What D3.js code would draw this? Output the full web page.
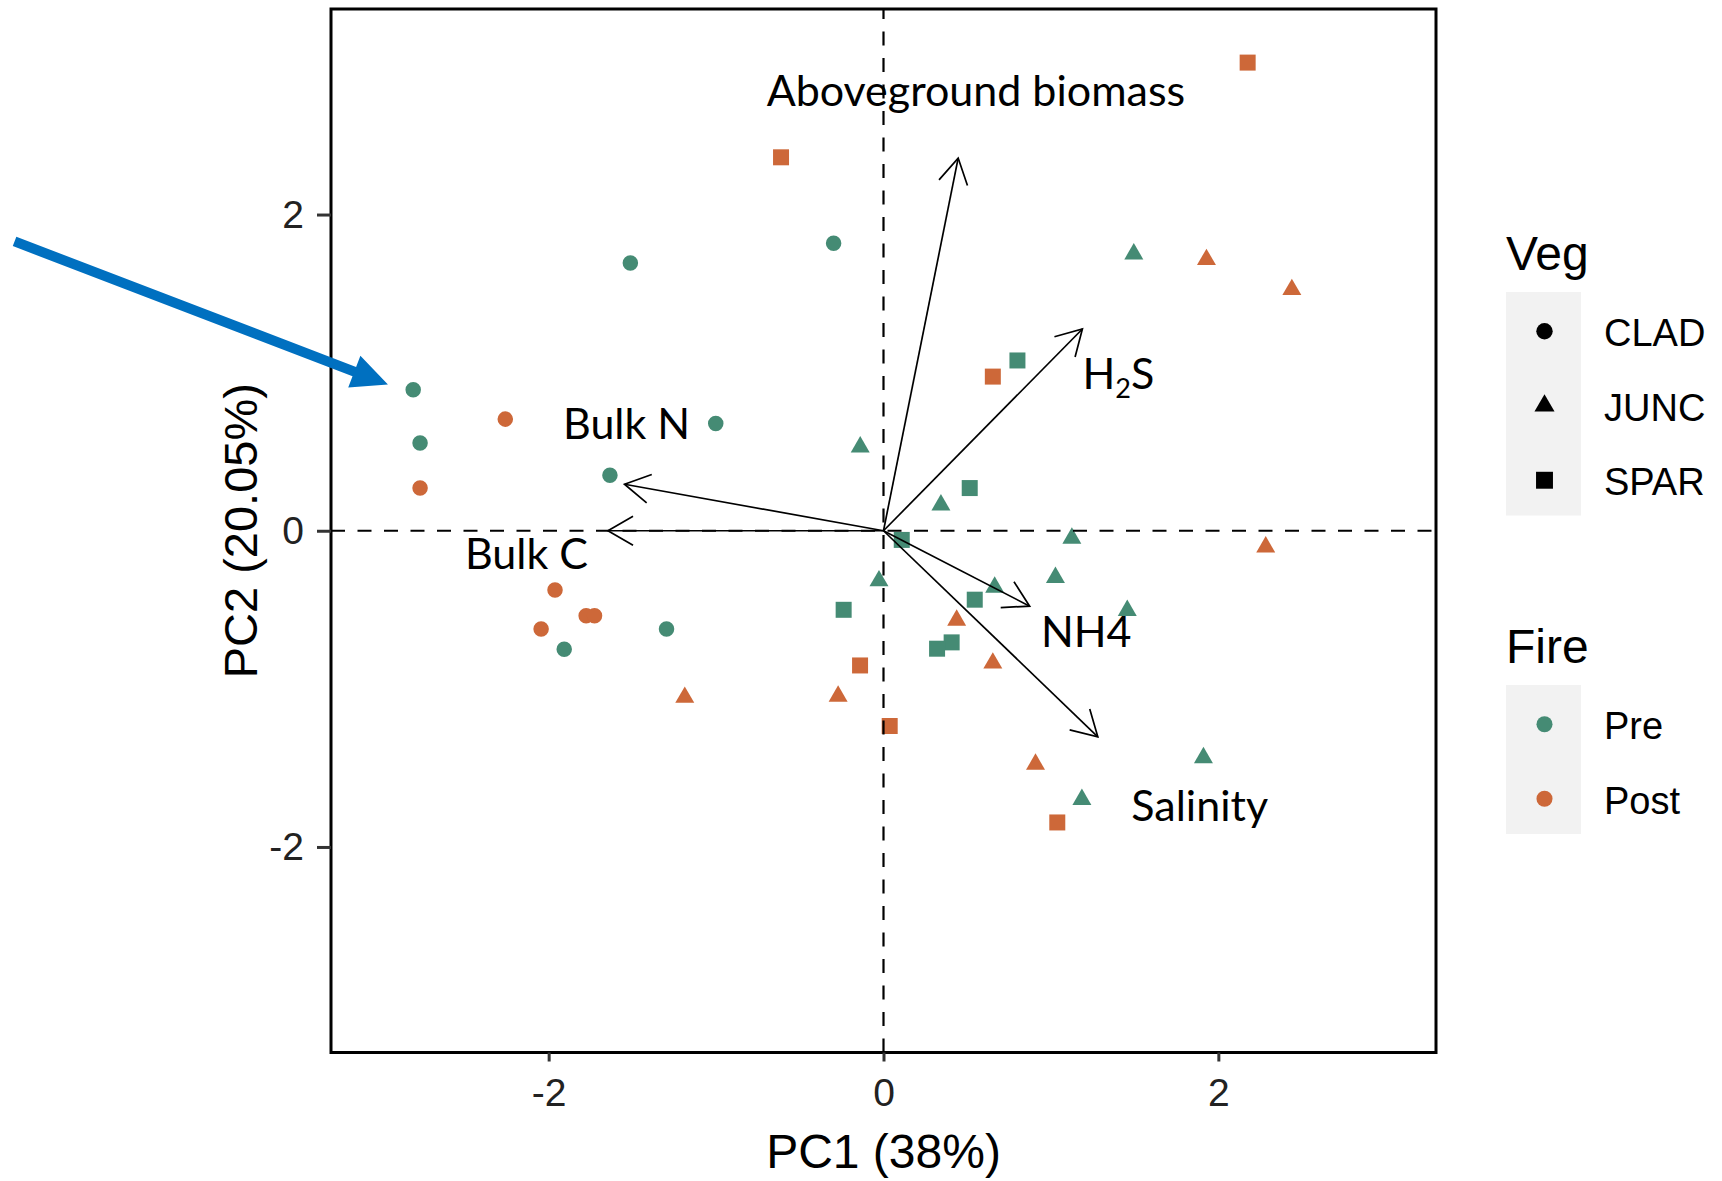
<!DOCTYPE html>
<html>
<head>
<meta charset="utf-8">
<script src="https://cdn.jsdelivr.net/npm/d3@7"></script>
<style>
  body { margin: 0; background: #fff; }
  svg text { font-family: "Liberation Sans", Arial, sans-serif; }
  .var-label { font-family: Lato, "Open Sans", sans-serif; }
</style>
</head>
<body>
<svg id="chart" width="1722" height="1181"></svg>
<script>
// PCA scores
var pc1 = [-0.298, -1.512, -2.809, -2.768, -1.002, -1.634, -1.907, -1.296,
           -2.259, -2.768, -1.962, -1.776, -1.726, -2.045,
           -0.139, 1.495, 0.343, 1.125, -0.027, 1.027, 0.664, 1.456, 1.911, 1.185,
           1.929, 2.439, 2.283, -1.187, -0.271, 0.437, 0.653, 0.908,
           0.800, 0.515, 0.109, -0.238, 0.545, 0.407, 0.320,
           -0.612, 2.175, 0.653, -0.140, 0.037, 1.038];
var pc2 = [1.819, 1.694, 0.892, 0.555, 0.679, 0.351, -0.749, -0.622,
           0.706, 0.270, -0.375, -0.538, -0.538, -0.622,
           0.530, 1.751, 0.163, -0.047, -0.317, -0.296, -0.357, -0.504, -1.436, -1.700,
           1.715, 1.525, -0.103, -1.054, -1.047, -0.566, -0.837, -1.477,
           1.077, 0.270, -0.058, -0.500, -0.436, -0.706, -0.746,
           2.362, 2.961, 0.975, -0.852, -1.235, -1.845];
var veg = ["CLAD","CLAD","CLAD","CLAD","CLAD","CLAD","CLAD","CLAD",
           "CLAD","CLAD","CLAD","CLAD","CLAD","CLAD",
           "JUNC","JUNC","JUNC","JUNC","JUNC","JUNC","JUNC","JUNC","JUNC","JUNC",
           "JUNC","JUNC","JUNC","JUNC","JUNC","JUNC","JUNC","JUNC",
           "SPAR","SPAR","SPAR","SPAR","SPAR","SPAR","SPAR",
           "SPAR","SPAR","SPAR","SPAR","SPAR","SPAR"];
var fire = ["Pre","Pre","Pre","Pre","Pre","Pre","Pre","Pre",
            "Post","Post","Post","Post","Post","Post",
            "Pre","Pre","Pre","Pre","Pre","Pre","Pre","Pre","Pre","Pre",
            "Post","Post","Post","Post","Post","Post","Post","Post",
            "Pre","Pre","Pre","Pre","Pre","Pre","Pre",
            "Post","Post","Post","Post","Post","Post"];

// variable loadings (arrow tips) and where their labels sit
var varNames = ["Aboveground biomass", "H2S", "NH4", "Salinity", "Bulk N", "Bulk C"];
var loadX = [0.446, 1.188, 0.873, 1.280, -1.547, -1.646];
var loadY = [2.357, 1.276, -0.477, -1.303, 0.294, 0];
var labelX = [-0.698, 1.188, 0.940, 1.480, -1.914, -2.500];
var labelY = [2.685, 0.898, -0.737, -1.834, 0.581, -0.244];

var xTicks = [-2, 0, 2];
var yTicks = [-2, 0, 2];
var vegLevels = ["CLAD", "JUNC", "SPAR"];
var fireLevels = ["Pre", "Post"];
var fireColors = ["#458B74", "#CD6839"];

// blue callout arrow pointing at one sample
var calloutFrom = [-5.19, 1.83];
var calloutTo = [-2.96, 0.925];

var margin = {top: 9, right: 286, bottom: 128.5, left: 331};
var W = 1722, H = 1181;
var width = W - margin.left - margin.right;
var height = H - margin.top - margin.bottom;

var svg = d3.select("#chart");
svg.append("rect").attr("width", W).attr("height", H).attr("fill", "#fff");

var g = svg.append("g")
    .attr("transform", "translate(" + margin.left + "," + margin.top + ")");

var x = d3.scaleLinear().domain([-3.3, 3.3]).range([0, width]);
var y = d3.scaleLinear().domain([-3.3, 3.3]).range([height, 0]);
var color = d3.scaleOrdinal().domain(fireLevels).range(fireColors);

function shapeFor(v, big) {
  var s = big || 1;
  if (v == "CLAD") return d3.symbol().type(d3.symbolCircle).size(189 * s)();
  if (v == "JUNC") return d3.symbol().type(d3.symbolTriangle).size(156 * s)();
  return d3.symbol().type(d3.symbolSquare).size(256 * s)();
}

// points
var pts = pc1.map(function(d, i) {
  return {x: d, y: pc2[i], veg: veg[i], fire: fire[i]};
});

g.selectAll("path.pt")
    .data(pts)
  .enter().append("path")
    .attr("class", "pt")
    .attr("d", function(d) { return shapeFor(d.veg); })
    .attr("transform", function(d) { return "translate(" + x(d.x) + "," + y(d.y) + ")"; })
    .attr("fill", function(d) { return color(d.fire); });

// reference lines at zero
g.append("line")
    .attr("x1", 0).attr("x2", width)
    .attr("y1", y(0)).attr("y2", y(0))
    .attr("stroke", "#000").attr("stroke-width", 2.2)
    .attr("stroke-dasharray", "14,12.5");
g.append("line")
    .attr("x1", x(0)).attr("x2", x(0))
    .attr("y1", height).attr("y2", 0)
    .attr("stroke", "#000").attr("stroke-width", 2.2)
    .attr("stroke-dasharray", "14,12.5");

// loading arrows
var headLen = 29, headAng = Math.PI / 6;
varNames.forEach(function(name, i) {
  var x0 = x(0), y0 = y(0), x1 = x(loadX[i]), y1 = y(loadY[i]);
  var a = Math.atan2(y1 - y0, x1 - x0);
  g.append("line")
      .attr("x1", x0).attr("y1", y0).attr("x2", x1).attr("y2", y1)
      .attr("stroke", "#000").attr("stroke-width", 1.7);
  var p = "M" + (x1 - headLen * Math.cos(a - headAng)) + "," + (y1 - headLen * Math.sin(a - headAng)) +
          "L" + x1 + "," + y1 +
          "L" + (x1 - headLen * Math.cos(a + headAng)) + "," + (y1 - headLen * Math.sin(a + headAng));
  g.append("path").attr("d", p).attr("fill", "none")
      .attr("stroke", "#000").attr("stroke-width", 1.7);
});

// variable labels
varNames.forEach(function(name, i) {
  var t = g.append("text")
      .attr("class", "var-label")
      .attr("x", x(labelX[i]))
      .attr("y", y(labelY[i]))
      .attr("font-size", 43)
      .attr("fill", "#000");
  if (name == "H2S") {
    t.append("tspan").text("H");
    t.append("tspan").attr("font-size", 27).attr("dy", 9).text("2");
    t.append("tspan").attr("dy", -9).text("S");
  } else {
    t.text(name);
  }
});

// panel border
g.append("rect")
    .attr("width", width).attr("height", height)
    .attr("fill", "none").attr("stroke", "#000").attr("stroke-width", 3);

// axes (ticks + labels only)
var yAxis = g.append("g")
    .call(d3.axisLeft(y).tickValues(yTicks).tickSize(14).tickPadding(13)
      .tickFormat(function(d) { return String(d); }));
var xAxis = g.append("g")
    .attr("transform", "translate(0," + height + ")")
    .call(d3.axisBottom(x).tickValues(xTicks).tickSize(9).tickPadding(17)
      .tickFormat(function(d) { return String(d); }));
[xAxis, yAxis].forEach(function(ax) {
  ax.select(".domain").remove();
  ax.selectAll(".tick line").attr("stroke", "#333").attr("stroke-width", 3);
  ax.selectAll(".tick text")
      .attr("fill", "#222")
      .style("font-size", "39px")
      .style("font-family", "'Liberation Sans', Arial, sans-serif");
});

// axis titles
svg.append("text")
    .attr("x", margin.left + x(0)).attr("y", 1168)
    .attr("text-anchor", "middle")
    .attr("font-size", 48)
    .text("PC1 (38%)");
svg.append("text")
    .attr("transform", "translate(257," + (margin.top + y(0)) + ") rotate(-90)")
    .attr("text-anchor", "middle")
    .attr("font-size", 47)
    .text("PC2 (20.05%)");

// legends
var legX = 1506, keyW = 75, keyH = 74.5;

function drawLegend(title, top, levels, shapeOf, fillOf) {
  var lg = svg.append("g").attr("transform", "translate(" + legX + "," + top + ")");
  lg.append("text").attr("x", 0).attr("y", -22).attr("font-size", 48).text(title);
  lg.append("rect")
      .attr("width", keyW).attr("height", keyH * levels.length)
      .attr("fill", "#F2F2F2");
  levels.forEach(function(lv, i) {
    var cy = keyH * i + keyH / 2 + 2;
    lg.append("path")
        .attr("d", shapeOf(lv))
        .attr("transform", "translate(" + (keyW / 2 + 1) + "," + cy + ")")
        .attr("fill", fillOf(lv));
    lg.append("text")
        .attr("x", 98).attr("y", cy + 15)
        .attr("font-size", 38)
        .text(lv);
  });
}

drawLegend("Veg", 292, vegLevels,
  function(v) { return shapeFor(v, 1.12); },
  function() { return "#000"; });
drawLegend("Fire", 685, fireLevels,
  function() { return shapeFor("CLAD", 1.07); },
  function(f) { return color(f); });

// callout arrow
(function() {
  var sx = x(calloutFrom[0]) + margin.left, sy = y(calloutFrom[1]) + margin.top;
  var tx = x(calloutTo[0]) + margin.left, ty = y(calloutTo[1]) + margin.top;
  var a = Math.atan2(ty - sy, tx - sx);
  var len = Math.hypot(tx - sx, ty - sy);
  var hw = 5, hl = 36, hh = 17;
  var pts = [[0, -hw], [len - hl, -hw], [len - hl, -hh], [len, 0], [len - hl, hh], [len - hl, hw], [0, hw]];
  svg.append("path")
      .attr("d", d3.line()(pts) + "Z")
      .attr("transform", "translate(" + sx + "," + sy + ") rotate(" + (a * 180 / Math.PI) + ")")
      .attr("fill", "#0070C0");
})();
</script>
</body>
</html>
